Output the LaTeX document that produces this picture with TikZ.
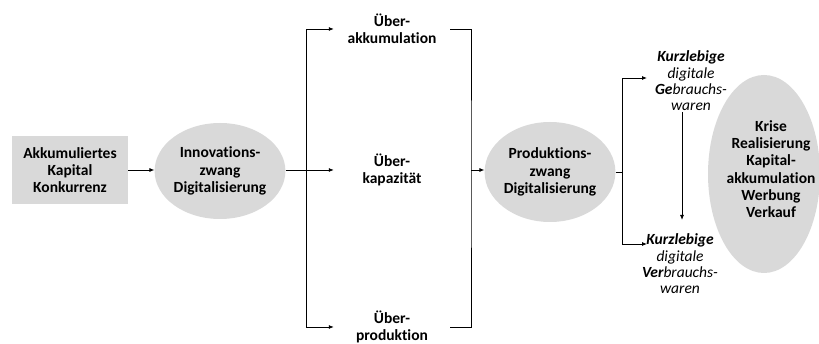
\documentclass[tikz,border=0pt]{standalone}
\usepackage{fontspec}
\setmainfont{Carlito}[Ligatures=NoCommon]
\usetikzlibrary{shapes.geometric,arrows.meta}
\definecolor{fillgray}{RGB}{217,217,217}
\begin{document}
\begin{tikzpicture}[x=1pt,y=-1pt,
  every node/.style={font=\fontsize{15.5}{17.3}\selectfont\bfseries, align=center, inner sep=0pt},
  blob/.style={ellipse, fill=fillgray},
  lbl/.style={minimum width=116pt},
  ware/.style={font=\fontsize{15.5}{16.3}\selectfont\itshape},
  line/.style={draw=black, line width=0.8pt},
  arr/.style={line, -{Latex[length=5pt,width=4pt]}}]
\useasboundingbox (0,0) rectangle (819,344);
\node[fill=fillgray, minimum width=116pt, minimum height=68pt] (box) at (70,170) {Akkumuliertes\\Kapital\\Konkurrenz};
\node[blob, minimum width=116pt, minimum height=96pt] (ell1) at (220,171) {Innovations-\\zwang\\Digitalisierung};
\node[lbl] (ue1) at (392,29) {Über-\\akkumulation};
\node[lbl] (ue2) at (392,170) {Über-\\kapazität};
\node[lbl] (ue3) at (392,327) {Über-\\produktion};
\node[blob, minimum width=117pt, minimum height=100pt] (ell2) at (550,172) {Produktions-\\zwang\\Digitalisierung};
\node[ware] (k1) at (691,81) {\textbf{Kurzlebige}\\digitale\\\textbf{Ge}brauchs-\\waren};
\node[ware] (k2) at (680,264) {\textbf{Kurzlebige}\\digitale\\\textbf{Ver}brauchs-\\waren};
\node[blob, minimum width=112pt, minimum height=198pt] (ell3) at (764,174) {};
\node (krise) at (771,169) {Krise\\Realisierung\\Kapital-\\akkumulation\\Werbung\\Verkauf};
\coordinate (b1) at (306,170);
\coordinate (b2) at (471,170);
\coordinate (b3) at (622,172);
\coordinate (k1in) at (647,78);
\coordinate (k2in) at (647,244);
\coordinate (v1) at (682,112);
\coordinate (v2) at (682,220);
\draw[arr] (box) -- (ell1.west |- box);
\draw[line] (ell1.east |- b1) -- (b1);
\draw[arr] (b1) |- (ue1);
\draw[arr] (b1) -- (ue2);
\draw[arr] (b1) |- (ue3);
\draw[line] (ue1) -| (b2) |- (ue3);
\draw[arr] (b2) -- (ell2.west |- b2);
\draw[line] (ell2) -- (b3);
\draw[arr] (b3) |- (k1in);
\draw[arr] (b3) |- (k2in);
\draw[arr] (v1) -- (v2);
\end{tikzpicture}
\end{document}
